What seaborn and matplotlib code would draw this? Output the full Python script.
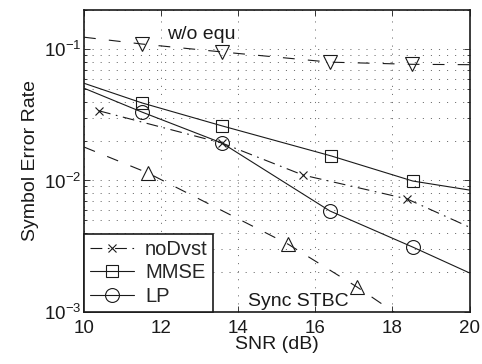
import matplotlib
matplotlib.use("Agg")
import matplotlib.pyplot as plt
from matplotlib.lines import Line2D
import seaborn as sns
import pandas as pd

# ---- data ----
wo_snr = [10.0, 11.50, 13.58, 16.38, 18.51, 20.0]
wo_ser = [0.124, 0.110, 0.0957, 0.080, 0.077, 0.0765]

stbc_snr = [10.0, 11.66, 15.29, 17.08, 18.5]
stbc_ser = [0.018, 0.0114, 0.00327, 0.00154, 0.0008]

nodvst_snr = [10.39, 13.58, 15.68, 18.38, 20.0]
nodvst_ser = [0.034, 0.0193, 0.011, 0.00723, 0.0044]

mmse_snr = [10.0, 11.50, 13.58, 16.41, 18.53, 20.0]
mmse_ser = [0.0552, 0.0391, 0.0261, 0.0154, 0.0099, 0.00845]

lp_snr = [10.0, 11.50, 13.58, 16.38, 18.53, 20.0]
lp_ser = [0.0506, 0.0333, 0.0193, 0.00585, 0.0031, 0.00197]

legend_labels = ["noDvst", "MMSE", "LP"]
x_ticks = [10, 12, 14, 16, 18, 20]

sns.set_theme(style="white")
plt.rcParams["font.family"] = ["Liberation Sans", "DejaVu Sans"]
plt.rcParams["mathtext.fontset"] = "custom"
plt.rcParams["mathtext.rm"] = "Liberation Sans"
plt.rcParams["mathtext.it"] = "Liberation Sans:italic"
plt.rcParams["mathtext.bf"] = "Liberation Sans:bold"
plt.rcParams["lines.scale_dashes"] = False

W, H = 482, 364
fig = plt.figure(figsize=(W / 100, H / 100), dpi=100)
L, R, T, B = 84, 469.5, 10, 311.5
ax = fig.add_axes([L / W, (H - B) / H, (R - L) / W, (B - T) / H])

dash = (0, (8.5, 9.5))
dashdot = (0, (8.5, 4.0, 1.2, 4.0))
lw = 0.8

def draw(xs, ys, ls, marker, ms, every):
    df = pd.DataFrame({"snr": xs, "ser": ys})
    sns.lineplot(data=df, x="snr", y="ser", ax=ax, color="k", linewidth=lw,
                 linestyle=ls, marker=marker, markersize=ms, markevery=every,
                 markerfacecolor="none", markeredgecolor="k",
                 markeredgewidth=0.8, sort=False, estimator=None)

draw(wo_snr, wo_ser, dash, "v", 9.5, [1, 2, 3, 4])
draw(stbc_snr, stbc_ser, dash, "^", 9.5, [1, 2, 3])
draw(nodvst_snr, nodvst_ser, dashdot, "x", 6, [0, 1, 2, 3])
draw(mmse_snr, mmse_ser, "-", "s", 8, [1, 2, 3, 4])
draw(lp_snr, lp_ser, "-", "o", 10, [1, 2, 3, 4])

ax.set_yscale("log")
ax.set_xlim(10, 20)
ax.set_ylim(1e-3, 0.2)
ax.set_xticks(x_ticks)
ax.set_xticklabels([str(t) for t in x_ticks])

grid_kw = dict(color="0.35", linewidth=0.6, linestyle=(0, (0.8, 5.0)))
ax.grid(True, which="major", axis="both", **grid_kw)
ax.grid(True, which="minor", axis="y", **grid_kw)
ax.set_axisbelow(True)

for s in ax.spines.values():
    s.set_color("k")
    s.set_linewidth(1.2)
ax.tick_params(which="both", direction="in", top=True, right=True,
               bottom=True, left=True, colors="k", labelsize=13.5, width=0.6)
ax.tick_params(which="major", length=4)
ax.tick_params(which="minor", length=2)
ax.tick_params(axis="x", pad=6)
ax.tick_params(axis="y", pad=2)

ax.set_xlabel("SNR (dB)", fontsize=14, color="k")
ax.set_ylabel("Symbol Error Rate", fontsize=14, color="k")
ax.xaxis.set_label_coords(0.5, -0.081)
ax.yaxis.set_label_coords(-0.118, 0.5)

ax.text(12.15, 0.129, "w/o equ", fontsize=14, va="center", ha="left", color="k")
ax.text(14.25, 0.00119, "Sync STBC", fontsize=14, va="center", ha="left", color="k")

handles = [
    Line2D([], [], color="k", linewidth=lw, linestyle=dashdot, marker="x",
           markersize=6, markerfacecolor="none", markeredgecolor="k", markeredgewidth=0.8),
    Line2D([], [], color="k", linewidth=lw, linestyle="-", marker="s",
           markersize=8, markerfacecolor="none", markeredgecolor="k", markeredgewidth=0.8),
    Line2D([], [], color="k", linewidth=lw, linestyle="-", marker="o",
           markersize=10, markerfacecolor="none", markeredgecolor="k", markeredgewidth=0.8),
]
leg = ax.legend(handles, legend_labels, loc="lower left", borderaxespad=0,
                fontsize=14.5, frameon=True, fancybox=False, framealpha=1,
                edgecolor="k", handlelength=2.2, handletextpad=0.55,
                labelspacing=0.22, borderpad=0.28)
leg.get_frame().set_linewidth(1.2)

fig.savefig("out.png", dpi=100)
